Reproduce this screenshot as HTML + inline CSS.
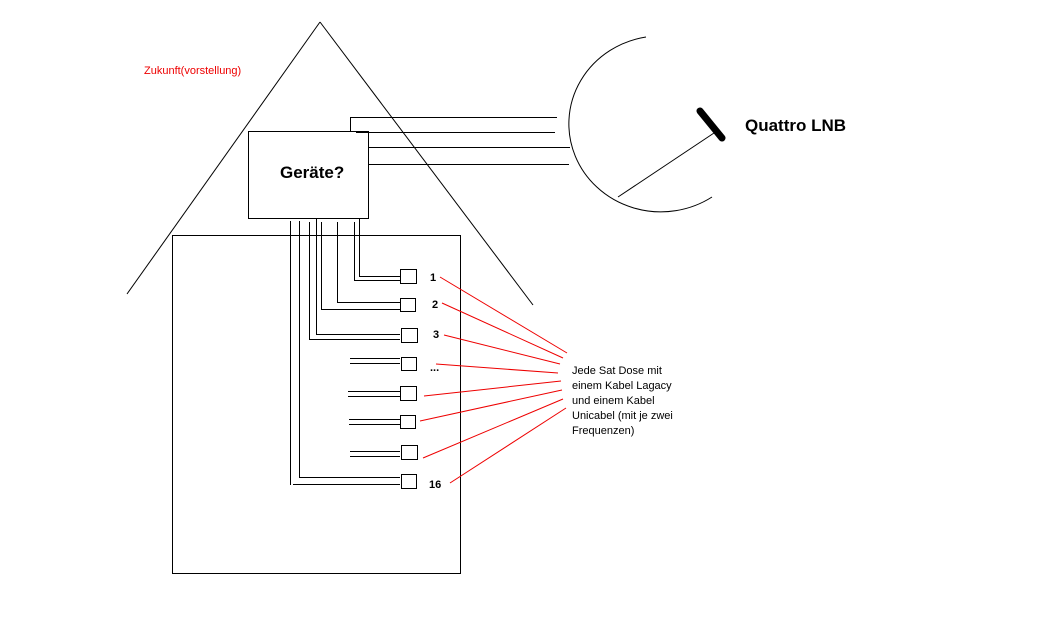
<!DOCTYPE html>
<html><head><meta charset="utf-8"><style>body{margin:0;background:#fff}svg{display:block}</style></head><body>
<svg width="1044" height="633" xmlns="http://www.w3.org/2000/svg" font-family="Liberation Sans, sans-serif">
<g stroke="#000" stroke-width="1" fill="none">
<line x1="320" y1="22" x2="127" y2="294"/>
<line x1="320" y1="22" x2="533" y2="305"/>
<rect x="172.5" y="235.5" width="288" height="338" fill="#fff"/>
<rect x="248.5" y="131.5" width="120" height="87" fill="#fff"/>
<polyline points="350.5,132 350.5,117.5 557,117.5"/>
<line x1="356" y1="132.5" x2="555" y2="132.5"/>
<line x1="368" y1="147.5" x2="570" y2="147.5"/>
<line x1="368" y1="164.5" x2="569" y2="164.5"/>
<path d="M646,37 A92,88 0 1,0 712,197"/>
<line x1="618" y1="197" x2="714" y2="133"/>
<line x1="700" y1="111" x2="722" y2="138" stroke-width="7" stroke-linecap="round"/>
<polyline points="359.5,218 359.5,276.5 400,276.5"/>
<polyline points="354.5,222 354.5,280.5 400,280.5"/>
<polyline points="337.5,222 337.5,302.5 400,302.5"/>
<polyline points="321.5,222 321.5,309.5 400,309.5"/>
<polyline points="316.5,218 316.5,334.5 400,334.5"/>
<polyline points="309.5,222 309.5,339.5 400,339.5"/>
<polyline points="299.5,221 299.5,477.5 400,477.5"/>
<polyline points="290.5,221 290.5,485"/>
<line x1="293" y1="484.5" x2="400" y2="484.5"/>
<line x1="350" y1="358.5" x2="400" y2="358.5"/><line x1="350" y1="363.5" x2="400" y2="363.5"/>
<line x1="348" y1="391.5" x2="400" y2="391.5"/><line x1="348" y1="396.5" x2="400" y2="396.5"/>
<line x1="349" y1="419.5" x2="400" y2="419.5"/><line x1="349" y1="424.5" x2="400" y2="424.5"/>
<line x1="350" y1="451.5" x2="400" y2="451.5"/><line x1="350" y1="456.5" x2="400" y2="456.5"/>
<rect x="400.5" y="269.5" width="16" height="14"/>
<rect x="400.5" y="298.5" width="15" height="13"/>
<rect x="401.5" y="328.5" width="16" height="14"/>
<rect x="401.5" y="357.5" width="15" height="13"/>
<rect x="400.5" y="386.5" width="16" height="14"/>
<rect x="400.5" y="415.5" width="15" height="13"/>
<rect x="401.5" y="445.5" width="16" height="14"/>
<rect x="401.5" y="474.5" width="15" height="14"/>
</g>
<g stroke="#e00" stroke-width="1">
<line x1="440" y1="277" x2="567" y2="353"/>
<line x1="442" y1="303" x2="563" y2="358"/>
<line x1="444" y1="335" x2="560" y2="364"/>
<line x1="436" y1="364" x2="558" y2="373"/>
<line x1="424" y1="396" x2="561" y2="381"/>
<line x1="420" y1="421" x2="562" y2="390"/>
<line x1="423" y1="458" x2="563" y2="399"/>
<line x1="450" y1="483" x2="566" y2="408"/>
</g>
<g font-weight="bold" font-size="11" fill="#000">
<text x="430" y="281">1</text><text x="432" y="308">2</text><text x="433" y="338">3</text>
<text x="430" y="371">...</text><text x="429" y="488">16</text>
</g>
<text x="144" y="74" font-size="11" fill="#e00">Zukunft(vorstellung)</text>
<text x="280" y="178" font-size="17" font-weight="bold">Geräte?</text>
<text x="745" y="131" font-size="17" font-weight="bold">Quattro LNB</text>
<g font-size="11" fill="#000">
<text x="572" y="374">Jede Sat Dose mit</text>
<text x="572" y="389">einem Kabel Lagacy</text>
<text x="572" y="404">und einem Kabel</text>
<text x="572" y="419">Unicabel (mit je zwei</text>
<text x="572" y="434">Frequenzen)</text>
</g>
</svg>
</body></html>
